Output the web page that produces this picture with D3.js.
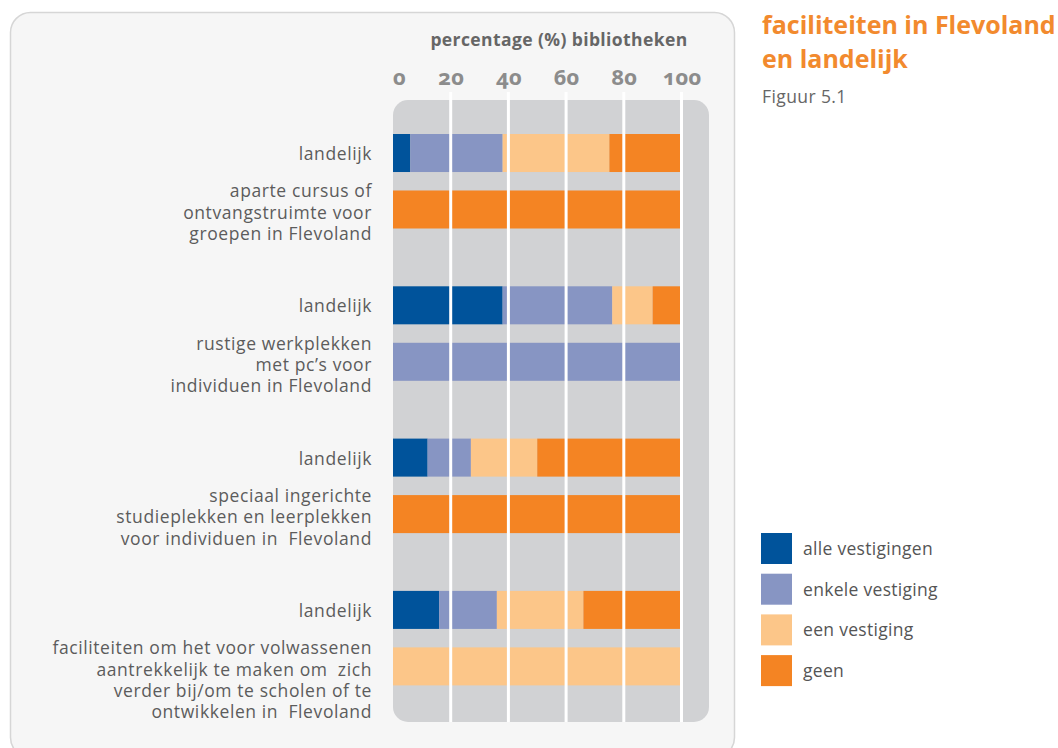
<!DOCTYPE html>
<html>
<head>
<meta charset="utf-8">
<script src="https://cdn.jsdelivr.net/npm/d3@7"></script>
<style>
  body { margin: 0; background: #fff; }
  svg { display: block; }
  text { white-space: pre; }
</style>
</head>
<body>
<script>
// data
var categories = ['alle vestigingen', 'enkele vestiging', 'een vestiging', 'geen'];
var topicLabels = [
  ['aparte cursus of', 'ontvangstruimte voor', 'groepen in Flevoland'],
  ['rustige werkplekken', 'met pc\u2019s voor', 'individuen in Flevoland'],
  ['speciaal ingerichte', 'studieplekken en leerplekken', 'voor individuen in  Flevoland'],
  ['faciliteiten om het voor volwassenen', 'aantrekkelijk te maken om  zich', 'verder bij/om te scholen of te', 'ontwikkelen in  Flevoland']
];
var regions = ['landelijk', 'Flevoland'];
// one value per row: topic 1 landelijk, topic 1 Flevoland, topic 2 landelijk, ...
var alleVestigingen = [6, 0, 38, 0, 12, 0, 16, 0];
var enkeleVestiging = [32, 0, 38, 100, 15, 0, 20, 0];
var eenVestiging = [37, 0, 14, 0, 23, 0, 30, 100];
var geen = [25, 100, 10, 0, 50, 100, 34, 0];
var xTicks = [0, 20, 40, 60, 80, 100];

var colors = ['#00539b', '#8795c3', '#fcc689', '#f48423'];

var width = 1058, height = 748;
var svg = d3.select('body').append('svg')
  .attr('width', width).attr('height', height)
  .style('font-family', '"Open Sans", sans-serif');

// outer card
svg.append('rect')
  .attr('x', 10.5).attr('y', 12.5).attr('width', 724).attr('height', 745)
  .attr('rx', 20).attr('fill', '#f6f6f6').attr('stroke', '#d6d6d6').attr('stroke-width', 1.5);

// table built from the arrays
var rows = [];
topicLabels.forEach(function (t, i) {
  regions.forEach(function (r, j) {
    var k = i * 2 + j;
    rows.push({ topic: i, region: r, 'alle vestigingen': alleVestigingen[k],
      'enkele vestiging': enkeleVestiging[k], 'een vestiging': eenVestiging[k], 'geen': geen[k] });
  });
});

var x = d3.scaleLinear().domain([0, 100]).range([393, 681.5]);
var yGroup = d3.scaleBand().domain(d3.range(topicLabels.length)).range([134, 134 + 4 * 152.3]);
var yInner = d3.scaleBand().domain(regions).range([0, 94.5]).paddingInner(0.327);
var color = d3.scaleOrdinal().domain(categories).range(colors);

function rowY(d) { return yGroup(d.topic) + yInner(d.region); }

// grey panel
svg.append('rect')
  .attr('x', 393).attr('y', 100).attr('width', 316).attr('height', 622)
  .attr('rx', 15).attr('fill', '#d1d2d4');

// stacked bars
var stacked = d3.stack().keys(categories)(rows);
svg.append('g').selectAll('g')
  .data(stacked).join('g')
  .attr('fill', function (s) { return color(s.key); })
  .selectAll('rect')
  .data(function (s) { return s; }).join('rect')
  .attr('x', function (d) { return x(d[0]); })
  .attr('width', function (d) { return x(d[1]) - x(d[0]); })
  .attr('y', function (d) { return rowY(d.data); })
  .attr('height', yInner.bandwidth());

// white grid lines over the bars
svg.append('g').selectAll('line')
  .data(xTicks.filter(function (t) { return t > 0; })).join('line')
  .attr('x1', function (d) { return x(d); }).attr('x2', function (d) { return x(d); })
  .attr('y1', 92).attr('y2', 722)
  .attr('stroke', '#fff').attr('stroke-width', 3);

// top axis labels
var xAxis = d3.axisTop(x).tickValues(xTicks).tickSize(0).tickPadding(0);
var axisG = svg.append('g').attr('transform', 'translate(0,85)').call(xAxis);
axisG.select('.domain').remove();
axisG.selectAll('text')
  .attr('dy', 0)
  .attr('dx', function (d) { return d === 0 ? 6 : 0; })
  .style('font-family', '"Noto Sans", sans-serif')
  .style('font-variant-numeric', 'oldstyle-nums')
  .style('font-size', '22px').style('font-weight', 'bold')
  .attr('fill', '#8c8c8c');

svg.append('text')
  .attr('x', 559).attr('y', 46).attr('text-anchor', 'middle')
  .style('font-size', '17.5px').style('font-weight', 'bold').style('letter-spacing', '0.4px')
  .attr('fill', '#666').text('percentage (%) bibliotheken');

// row labels
var labelG = svg.append('g').attr('text-anchor', 'end')
  .style('font-size', '17.5px').style('letter-spacing', '0.6px').attr('fill', '#5c5c5c');
rows.forEach(function (d) {
  var t = labelG.append('text').attr('x', 372);
  if (d.region === 'landelijk') {
    t.attr('y', rowY(d) + yInner.bandwidth() / 2 + 7).text('landelijk');
  } else {
    t.selectAll('tspan').data(topicLabels[d.topic]).join('tspan')
      .attr('x', 372)
      .attr('y', function (l, i) { return rowY(d) + 7 + i * 21.3; })
      .text(function (l) { return l; });
  }
});

// title
svg.append('text').attr('x', 762).attr('y', 34)
  .style('font-size', '25px').style('font-weight', 'bold').attr('fill', '#f28a2e')
  .text('faciliteiten in Flevoland');
svg.append('text').attr('x', 762).attr('y', 68)
  .style('font-size', '25px').style('font-weight', 'bold').attr('fill', '#f28a2e')
  .text('en landelijk');
svg.append('text').attr('x', 762).attr('y', 103)
  .style('font-size', '17.5px').style('letter-spacing', '0.4px').attr('fill', '#666')
  .text('Figuur 5.1');

// legend
var yLegend = d3.scaleBand().domain(categories).range([533, 533 + 4 * 40.7]);
var leg = svg.append('g').selectAll('g').data(categories).join('g')
  .attr('transform', function (d) { return 'translate(761,' + yLegend(d) + ')'; });
leg.append('rect').attr('width', 31).attr('height', 31)
  .attr('fill', function (d) { return color(d); });
leg.append('text').attr('x', 42).attr('y', 22)
  .style('font-size', '17.5px').style('letter-spacing', '0.3px').attr('fill', '#555')
  .text(function (d) { return d; });
</script>
</body>
</html>
